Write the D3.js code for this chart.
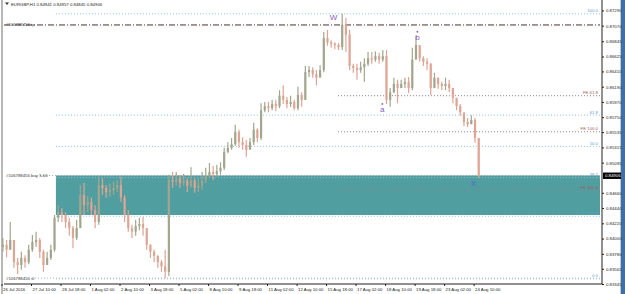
<!DOCTYPE html>
<html>
<head>
<meta charset="utf-8">
<script src="https://cdn.jsdelivr.net/npm/d3@7"></script>
<style>
  body { margin: 0; background: #fff; }
  svg { display: block; font-family: "Liberation Sans", Arial, sans-serif; }
</style>
</head>
<body>
<div id="chart"></div>
<script>
const firstOpen = 0.8388;
const closes = [
  0.8391, 0.8384, 0.8398, 0.8366, 0.8362, 0.8372, 0.8366, 0.8384, 0.8395, 0.8398,
  0.8381, 0.8362, 0.8372, 0.8384, 0.8430, 0.8438, 0.8434, 0.8424, 0.8415, 0.8401,
  0.8415, 0.8463, 0.8448, 0.8453, 0.8441, 0.8424, 0.8477, 0.8473, 0.8467, 0.8470,
  0.8473, 0.8477, 0.8459, 0.8434, 0.8415, 0.8410, 0.8418, 0.8421, 0.8415, 0.8391,
  0.8381, 0.8375, 0.8366, 0.8360, 0.8352, 0.8484, 0.8482, 0.8487, 0.8480, 0.8484,
  0.8476, 0.8484, 0.8473, 0.8477, 0.8484, 0.8490, 0.8496, 0.8493, 0.8497, 0.8502,
  0.8525, 0.8531, 0.8536, 0.8554, 0.8539, 0.8535, 0.8528, 0.8539, 0.8557, 0.8545,
  0.8585, 0.8591, 0.8588, 0.8594, 0.8591, 0.8606, 0.8600, 0.8594, 0.8597, 0.8588,
  0.8607, 0.8600, 0.8640, 0.8643, 0.8637, 0.8632, 0.8643, 0.8689, 0.8683, 0.8681,
  0.8679, 0.8676, 0.8708, 0.8694, 0.8649, 0.8646, 0.8643, 0.8647, 0.8652, 0.8660,
  0.8658, 0.8663, 0.8658, 0.8663, 0.8600, 0.8611, 0.8623, 0.8617, 0.8623, 0.8626,
  0.8617, 0.8658, 0.8679, 0.8660, 0.8655, 0.8652, 0.8617, 0.8632, 0.8623, 0.8620,
  0.8623, 0.8617, 0.8603, 0.8591, 0.8582, 0.8568, 0.8565, 0.8571, 0.8545, 0.84906
];
const highs = [
  0.8401, 0.8398, 0.8424, 0.8398, 0.8372, 0.8381, 0.8376, 0.8391, 0.8405, 0.8410,
  0.8401, 0.8384, 0.8381, 0.8391, 0.8434, 0.8448, 0.8444, 0.8438, 0.8430, 0.8418,
  0.8427, 0.8477, 0.8480, 0.8461, 0.8459, 0.8448, 0.8489, 0.8487, 0.8477, 0.8479,
  0.8482, 0.8484, 0.8489, 0.8463, 0.8441, 0.8420, 0.8427, 0.8430, 0.8431, 0.8415,
  0.8392, 0.8384, 0.8376, 0.8369, 0.8384, 0.8492, 0.8496, 0.8496, 0.8492, 0.8493,
  0.8487, 0.8503, 0.8487, 0.8487, 0.8496, 0.8502, 0.8509, 0.8505, 0.8506, 0.8510,
  0.8531, 0.8539, 0.8545, 0.8564, 0.8557, 0.8546, 0.8542, 0.8545, 0.8567, 0.8559,
  0.8595, 0.8597, 0.8597, 0.8600, 0.8600, 0.8614, 0.8621, 0.8604, 0.8606, 0.8600,
  0.8619, 0.8611, 0.8649, 0.8649, 0.8647, 0.8643, 0.8650, 0.8698, 0.8701, 0.8686,
  0.8683, 0.8682, 0.8724, 0.8718, 0.8701, 0.8652, 0.8652, 0.8655, 0.8660, 0.8669,
  0.8669, 0.8670, 0.8668, 0.8672, 0.8672, 0.8617, 0.8632, 0.8629, 0.8629, 0.8632,
  0.8633, 0.8675, 0.8692, 0.8675, 0.8663, 0.8660, 0.8653, 0.8639, 0.8632, 0.8626,
  0.8632, 0.8629, 0.8614, 0.8600, 0.8594, 0.8578, 0.8574, 0.8578, 0.8574, 0.8545
];
const lows = [
  0.8381, 0.8373, 0.8384, 0.8358, 0.8349, 0.8355, 0.8358, 0.8363, 0.8381, 0.8388,
  0.8372, 0.8352, 0.8362, 0.8369, 0.8381, 0.8424, 0.8424, 0.8415, 0.8404, 0.8386,
  0.8398, 0.8424, 0.8434, 0.8438, 0.8434, 0.8415, 0.8420, 0.8463, 0.8459, 0.8460,
  0.8463, 0.8467, 0.8453, 0.8424, 0.8410, 0.8401, 0.8404, 0.8412, 0.8404, 0.8384,
  0.8372, 0.8366, 0.8358, 0.8352, 0.8343, 0.8346, 0.8473, 0.8476, 0.8473, 0.8476,
  0.8467, 0.8473, 0.8466, 0.8467, 0.8470, 0.8480, 0.8487, 0.8484, 0.8489, 0.8492,
  0.8499, 0.8523, 0.8528, 0.8534, 0.8531, 0.8528, 0.8518, 0.8531, 0.8535, 0.8539,
  0.8542, 0.8582, 0.8582, 0.8585, 0.8584, 0.8588, 0.8594, 0.8588, 0.8590, 0.8585,
  0.8585, 0.8590, 0.8600, 0.8633, 0.8632, 0.8621, 0.8634, 0.8640, 0.8678, 0.8675,
  0.8673, 0.8672, 0.8672, 0.8669, 0.8643, 0.8639, 0.8629, 0.8639, 0.8626, 0.8649,
  0.8652, 0.8655, 0.8652, 0.8655, 0.8594, 0.8590, 0.8610, 0.8595, 0.8617, 0.8617,
  0.8610, 0.8614, 0.8665, 0.8655, 0.8649, 0.8643, 0.8607, 0.8620, 0.8616, 0.8614,
  0.8614, 0.8611, 0.8595, 0.8585, 0.8577, 0.8562, 0.8561, 0.8565, 0.8538, 0.8487
];

const timeLabels = [
  "26 Jul 2016", "27 Jul 10:00", "28 Jul 18:00", "1 Aug 02:00", "2 Aug 10:00",
  "3 Aug 18:00", "5 Aug 02:00", "8 Aug 10:00", "9 Aug 18:00", "11 Aug 02:00",
  "12 Aug 10:00", "15 Aug 18:00", "17 Aug 02:00", "18 Aug 10:00", "19 Aug 18:00",
  "23 Aug 02:00", "24 Aug 10:00"
];
const priceTicks = [
  0.87290, 0.87070, 0.86845, 0.86625, 0.86410, 0.86190, 0.85970, 0.85750, 0.85535,
  0.85315, 0.85095, 0.84660, 0.84440, 0.84220, 0.84000, 0.83780, 0.83565, 0.83345
];

// Fibonacci retracement (low -> W high) and expansion levels
const fibLow = 0.8342, fibHigh = 0.8724;
const fibRatios = [0, 23.6, 38.2, 50.0, 61.8, 100.0];
const feLabels = ["FE 61.8", "FE 100.0", "FE 161.8"];
const fePrices = [0.8606, 0.8554, 0.8470];

// trade: ticket lines and the buy zone
const tpPrice = 0.8708, buyPrice = 0.8491, slPrice = 0.8343;
const zoneTop = 0.8491, zoneBottom = 0.8434;

const waveLabels = [
  {t: "W", bar: 360, price: 0.8719, color: "#8a5cc8", dot: false},
  {t: "a", bar: 413, price: 0.8587, color: "#8a5cc8", dot: true},
  {t: "b", bar: 451, price: 0.8691, color: "#8a5cc8", dot: true},
  {t: "X", bar: 512, price: 0.8480, color: "#5a62c8", dot: false}
];

const W = 625, H = 294;
const plotRight = 602, plotBottom = 284;

const svg = d3.select("#chart").append("svg")
    .attr("width", W)
    .attr("height", H);

// one H1 bar is a little under a pixel wide
const x = d3.scaleLinear().domain([0, 520]).range([1.5, 481]);
const y = d3.scaleLinear().domain([0.83345, 0.87440]).range([plotBottom, 0]);

// window frame
svg.append("rect").attr("x", 1).attr("y", 0).attr("width", 2).attr("height", H).attr("fill", "#b8b8b8");
svg.append("rect").attr("x", 620).attr("y", 0).attr("width", 1).attr("height", H).attr("fill", "#c8c8c8");
svg.append("rect").attr("x", 621).attr("y", 0).attr("width", 4).attr("height", H).attr("fill", "#3d6fa8");

// buy zone
svg.append("rect")
    .attr("x", x(59))
    .attr("y", y(zoneTop))
    .attr("width", 600 - x(59))
    .attr("height", y(zoneBottom) - y(zoneTop))
    .attr("fill", "#509ea0");

// fib retracement
fibRatios.forEach(r => {
  const p = fibLow + (fibHigh - fibLow) * r / 100;
  svg.append("line")
      .attr("x1", x(59)).attr("x2", 600)
      .attr("y1", y(p)).attr("y2", y(p))
      .attr("stroke", "#8fbce0")
      .attr("stroke-width", 1)
      .attr("stroke-dasharray", "1,2");
  svg.append("text")
      .attr("x", 598).attr("y", y(p) - 1.5)
      .attr("text-anchor", "end")
      .attr("font-size", 4.3)
      .attr("fill", "#6a9ccc")
      .text(r.toFixed(1));
});

// fib expansion
fePrices.forEach((p, i) => {
  svg.append("line")
      .attr("x1", x(365)).attr("x2", 600)
      .attr("y1", y(p)).attr("y2", y(p))
      .attr("stroke", "#8a8080")
      .attr("stroke-width", 1)
      .attr("stroke-dasharray", "1,2");
  svg.append("text")
      .attr("x", 598).attr("y", y(p) - 1.5)
      .attr("text-anchor", "end")
      .attr("font-size", 4.3)
      .attr("fill", "#a45a5a")
      .text(feLabels[i]);
});

// ticket lines
svg.append("line")
    .attr("x1", 4).attr("x2", 600)
    .attr("y1", y(tpPrice)).attr("y2", y(tpPrice))
    .attr("stroke", "#4a3030")
    .attr("stroke-dasharray", "6,2,1,2");
svg.append("line")
    .attr("x1", 40).attr("x2", 600)
    .attr("y1", y(buyPrice)).attr("y2", y(buyPrice))
    .attr("stroke", "#9ab0a0")
    .attr("stroke-dasharray", "1,2");
svg.append("line")
    .attr("x1", 32).attr("x2", 600)
    .attr("y1", y(slPrice)).attr("y2", y(slPrice))
    .attr("stroke", "#a8b8c8")
    .attr("stroke-dasharray", "1,2");

const ticketText = [["#106788456 tp", tpPrice], ["#106788456 buy 5.00", buyPrice], ["#106788456 sl", slPrice]];
ticketText.forEach(([t, p]) => {
  svg.append("text")
      .attr("x", 6).attr("y", y(p) + 1.5)
      .attr("font-size", 4.3)
      .attr("fill", "#333")
      .text(t);
});

// candles
const candles = closes.map((c, i) => ({
  bar: 4 * i + 1.5,
  o: i === 0 ? firstOpen : closes[i - 1],
  h: highs[i], l: lows[i], c
}));
const bull = "#a2a68e", bear = "#dea494";

const cg = svg.append("g");
cg.selectAll(".wick")
  .data(candles)
  .join("line")
    .attr("class", "wick")
    .attr("x1", d => x(d.bar)).attr("x2", d => x(d.bar))
    .attr("y1", d => y(d.h)).attr("y2", d => y(d.l))
    .attr("stroke", d => d.c >= d.o ? bull : bear)
    .attr("stroke-width", 1.2);
cg.selectAll(".body")
  .data(candles)
  .join("rect")
    .attr("class", "body")
    .attr("x", d => x(d.bar) - 1.1)
    .attr("width", 2.2)
    .attr("y", d => y(Math.max(d.o, d.c)))
    .attr("height", d => Math.max(1, Math.abs(y(d.o) - y(d.c))))
    .attr("fill", d => d.c >= d.o ? bull : bear);

// wave labels
waveLabels.forEach(w => {
  svg.append("text")
      .attr("x", x(w.bar)).attr("y", y(w.price) + 3)
      .attr("text-anchor", "middle")
      .attr("font-size", 8)
      .attr("fill", w.color)
      .text(w.t);
  if (w.dot) {
    svg.append("circle")
        .attr("cx", x(w.bar)).attr("cy", y(w.price) - 5)
        .attr("r", 0.9)
        .attr("fill", w.color);
  }
});

// price axis
const yAxis = svg.append("g")
    .attr("transform", `translate(${plotRight},0)`)
    .call(d3.axisRight(y).tickValues(priceTicks).tickSize(2).tickPadding(2)
      .tickFormat(d3.format(".5f")));
yAxis.select(".domain").remove();
yAxis.selectAll("text").attr("font-size", 4.3).attr("fill", "#222").attr("font-family", "Liberation Sans, Arial, sans-serif");
yAxis.selectAll("line").attr("stroke", "#222");

// time axis
const xAxis = svg.append("g")
    .attr("transform", `translate(0,${plotBottom})`)
    .call(d3.axisBottom(x).tickValues(d3.range(0, 513, 32)).tickSize(2).tickPadding(2)
      .tickFormat((d, i) => timeLabels[i]));
xAxis.select(".domain").remove();
xAxis.selectAll("text")
    .attr("text-anchor", "start")
    .attr("dx", 1)
    .attr("font-size", 4.3)
    .attr("fill", "#222")
    .attr("font-family", "Liberation Sans, Arial, sans-serif");
xAxis.selectAll("line").attr("stroke", "#222");

svg.append("line").attr("x1", 4).attr("x2", plotRight).attr("y1", plotBottom).attr("y2", plotBottom).attr("stroke", "#222");
svg.append("line").attr("x1", plotRight).attr("x2", plotRight).attr("y1", 0).attr("y2", plotBottom).attr("stroke", "#222");

// current price box
const last = closes[closes.length - 1];
svg.append("rect")
    .attr("x", plotRight + 1).attr("y", y(last) - 3.2)
    .attr("width", 18).attr("height", 6.4)
    .attr("fill", "#000");
svg.append("text")
    .attr("x", plotRight + 3).attr("y", y(last) + 1.6)
    .attr("font-size", 4.3)
    .attr("fill", "#fff")
    .text(last.toFixed(5));

// title
svg.append("path").attr("d", "M5,2.5 L9,2.5 L7,5 Z").attr("fill", "#333");
svg.append("text")
    .attr("x", 11).attr("y", 5.5)
    .attr("font-size", 4.3)
    .attr("fill", "#222")
    .text("EURGBP,H1  0.84941 0.84957 0.84845 0.84906");
</script>
</body>
</html>
